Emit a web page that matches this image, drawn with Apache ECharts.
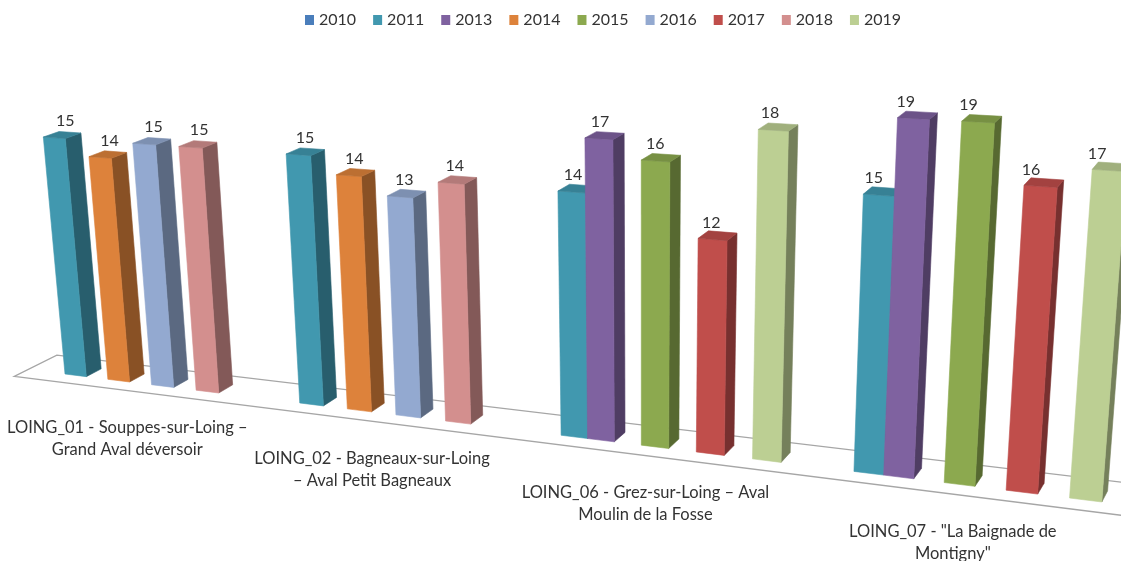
<!DOCTYPE html>
<html>
<head>
<meta charset="utf-8">
<script src="https://cdn.jsdelivr.net/npm/echarts@6/dist/echarts.min.js"></script>
<style>
  html, body { margin: 0; padding: 0; background: #fff; }
  #main { width: 1121px; height: 561px; }
</style>
</head>
<body>
<div id="main"></div>
<script>
// categories (line break kept as in the source chart)
const categories = [
  'LOING_01 - Souppes-sur-Loing –\nGrand Aval déversoir',
  'LOING_02 - Bagneaux-sur-Loing\n– Aval Petit Bagneaux',
  'LOING_06 - Grez-sur-Loing – Aval\nMoulin de la Fosse',
  'LOING_07 - "La Baignade de\nMontigny"'
];
const years = ['2010', '2011', '2013', '2014', '2015', '2016', '2017', '2018', '2019'];

const v2010 = [null, null, null, null];
const v2011 = [15, 15, 14, 15];
const v2013 = [null, null, 17, 19];
const v2014 = [14, 14, null, null];
const v2015 = [null, null, 16, 19];
const v2016 = [15, 13, null, null];
const v2017 = [null, null, 12, 16];
const v2018 = [15, 14, null, null];
const v2019 = [null, null, 18, 17];
const seriesValues = [v2010, v2011, v2013, v2014, v2015, v2016, v2017, v2018, v2019];

const colors = ['#4A7EBB', '#4198AF', '#7F62A0', '#DD823B', '#8CA94F', '#93A9D0', '#C04E4B', '#D38F8E', '#BCCF93'];

// 3d look: one slot per year, 1.5 slot gap between categories
const GROUP = years.length + 1.5;
const X_MIN = -0.75;
const X_MAX = categories.length * GROUP - 0.75;
const FLOOR_FRONT = -0.9, FLOOR_BACK = 1.9;
const persp = { c: 0.00483, e: 0.0024, f: 0.01, ax: -1.543, dx: 15.7, bu: 0.8, dy: -4 };
const FONT = 'Lato, "Open Sans", sans-serif';
const TEXT = '#333333';

function project(api, u, h, z) {
  const p = api.coord([u, h]);
  const w = 1 - persp.c * u - persp.e * h + persp.f * z;
  return [(p[0] + persp.ax * h + persp.dx * z) / w, (p[1] + persp.bu * u + persp.dy * z) / w];
}

function shade(hex, k) {
  const n = parseInt(hex.slice(1), 16);
  const r = Math.round(((n >> 16) & 255) * k);
  const g = Math.round(((n >> 8) & 255) * k);
  const b = Math.round((n & 255) * k);
  return 'rgb(' + r + ',' + g + ',' + b + ')';
}

function face(points, fill) {
  return { type: 'polygon', shape: { points: points }, style: { fill: fill, stroke: fill, lineWidth: 0.6 } };
}

function renderBar(params, api) {
  const g = api.value(0);
  const v = api.value(1);
  const s = params.seriesIndex;
  const u = g * GROUP + s;
  const P = (uu, hh, zz) => project(api, uu, hh, zz);
  const base = colors[s];
  const front = [P(u, 0, 0), P(u + 1, 0, 0), P(u + 1, v, 0), P(u, v, 0)];
  const side = [P(u + 1, 0, 0), P(u + 1, 0, 1), P(u + 1, v, 1), P(u + 1, v, 0)];
  const top = [P(u, v, 0), P(u + 1, v, 0), P(u + 1, v, 1), P(u, v, 1)];
  const mid = P(u + 0.5, v / 2, 0);
  const tp = P(u + 0.5, v, 0);
  return {
    type: 'group',
    children: [
      face(side, shade(base, 0.62)),
      face(front, base),
      face(top, shade(base, 0.85)),
      {
        type: 'text',
        style: {
          text: String(v), x: mid[0], y: tp[1] - 17,
          align: 'center', verticalAlign: 'middle',
          font: '16px ' + FONT, fill: TEXT
        }
      }
    ]
  };
}

function renderFloor(params, api) {
  const pts = [
    project(api, X_MIN, 0, FLOOR_FRONT),
    project(api, X_MAX, 0, FLOOR_FRONT),
    project(api, X_MAX, 0, FLOOR_BACK),
    project(api, X_MIN, 0, FLOOR_BACK)
  ];
  return { type: 'polygon', shape: { points: pts }, style: { fill: '#fff', stroke: '#A6A6A6', lineWidth: 1.3 } };
}

function renderCategory(params, api) {
  const g = api.value(0);
  const p = project(api, g * GROUP + (years.length / 2), 0, FLOOR_FRONT);
  return {
    type: 'text',
    style: {
      text: categories[g], x: p[0], y: p[1] + 26,
      align: 'center', verticalAlign: 'top', lineHeight: 22,
      font: '16.5px ' + FONT, fill: TEXT
    }
  };
}

const chart = echarts.init(document.getElementById('main'));

const series = years.map((y, i) => ({
  name: y,
  type: 'custom',
  z: 3,
  itemStyle: { color: colors[i] },
  renderItem: renderBar,
  data: seriesValues[i].map((v, g) => [g, v]).filter(d => d[1] != null)
}));

series.push({
  type: 'custom', z: 1, silent: true,
  renderItem: renderFloor,
  data: [[0, 0]]
});
series.push({
  type: 'custom', z: 2, silent: true,
  renderItem: renderCategory,
  data: categories.map((c, i) => [i, 0])
});

chart.setOption({
  animation: false,
  color: colors,
  legend: {
    data: years,
    top: 7,
    left: 300,
    icon: 'rect',
    itemWidth: 9,
    itemHeight: 10,
    itemGap: 17,
    textStyle: { fontSize: 16, fontFamily: FONT, color: TEXT }
  },
  grid: { left: 28.3, right: 219.1, top: 50.4, bottom: 189.6 },
  xAxis: { type: 'value', min: X_MIN, max: X_MAX, show: false },
  yAxis: { type: 'value', min: 0, max: 20, show: false },
  series: series
});
</script>
</body>
</html>
